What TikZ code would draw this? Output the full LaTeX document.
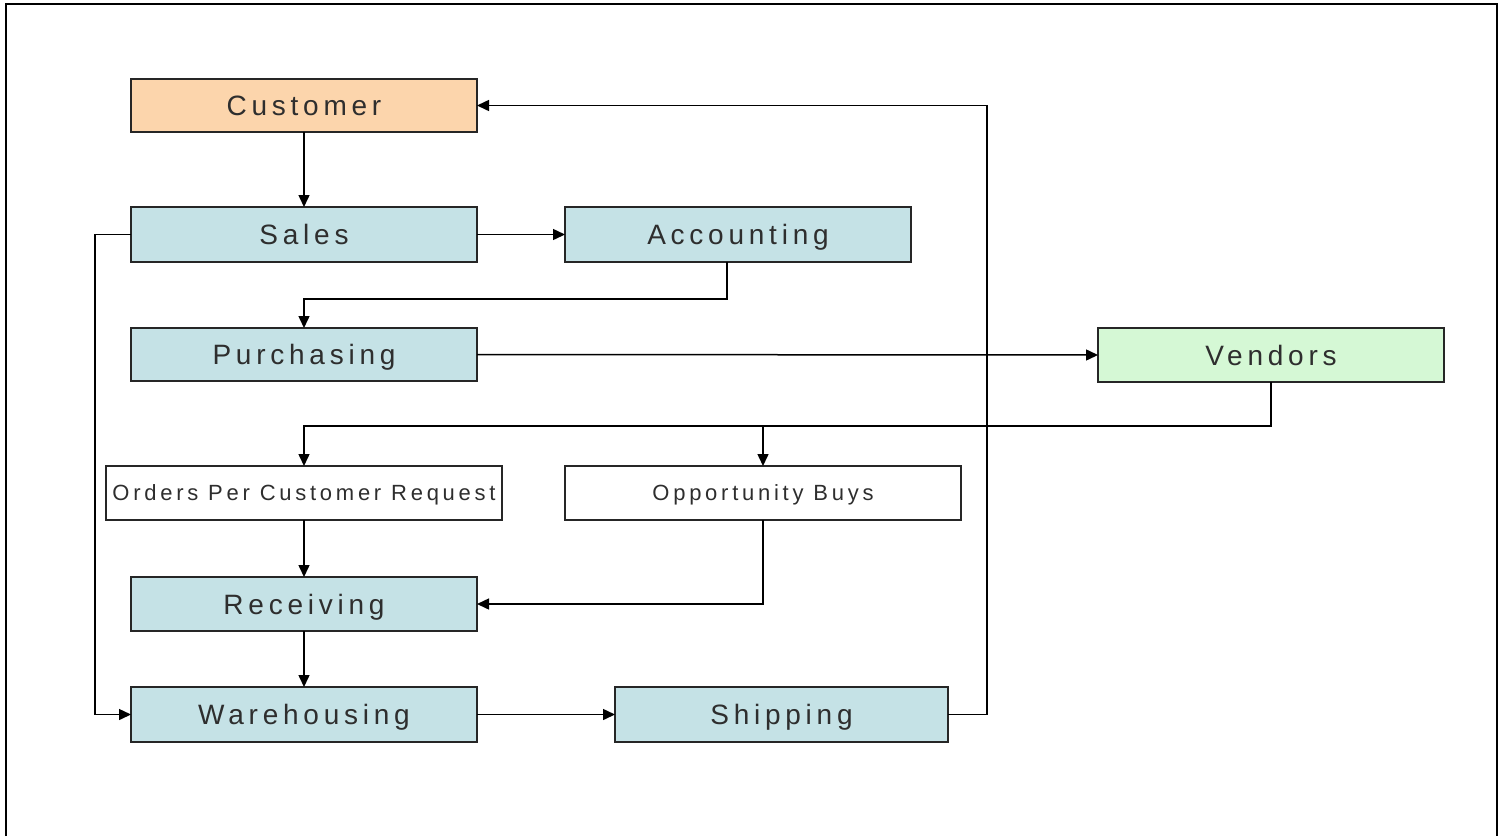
\documentclass[tikz,border=0pt]{standalone}
\usepackage{fontspec}
\setmainfont{Liberation Sans}
\newfontfamily\bigsp[LetterSpace=17]{Liberation Sans}
\newfontfamily\smallsp[LetterSpace=17]{Liberation Sans}
\usetikzlibrary{arrows.meta}
\definecolor{custfill}{HTML}{FCD5AC}
\definecolor{deptfill}{HTML}{C5E2E6}
\definecolor{vendfill}{HTML}{D5F8D5}
\definecolor{txt}{HTML}{2E2E2E}
\tikzset{
  box/.style={draw=black!85, line width=2pt, rectangle, minimum width=346pt, minimum height=54pt,
    inner sep=0pt, outer sep=0pt, text=txt, text height=20pt, text depth=0pt,
    font=\bigsp\fontsize{28}{30}\selectfont},
  wbox/.style={box, fill=white, minimum width=396pt, text height=15.5pt, text depth=0pt,
    font=\smallsp\fontsize{22}{24}\selectfont},
  conn/.style={draw=black, line width=1.5pt, -{Triangle[length=12pt,width=11pt]}},
}
\begin{document}
\begin{tikzpicture}[x=1pt,y=-1pt]
\useasboundingbox (0,0) rectangle (1504,836);
\draw[line width=2pt] (6,836) -- (6,4) -- (1497,4) -- (1497,836);

\node[box, fill=custfill, minimum height=53pt] (customer) at (304,105.5) {Customer};
\node[box, fill=deptfill, minimum height=55pt] (sales) at (304,234.5) {Sales};
\node[box, fill=deptfill, minimum height=55pt] (accounting) at (738,234.5) {Accounting};
\node[box, fill=deptfill, minimum height=53pt] (purchasing) at (304,354.5) {Purchasing};
\node[box, fill=vendfill] (vendors) at (1271,355) {Vendors};
\node[wbox] (orders) at (304,493) {Orders Per Customer Request};
\node[wbox] (opportunity) at (763,493) {Opportunity Buys};
\node[box, fill=deptfill] (receiving) at (304,604) {Receiving};
\node[box, fill=deptfill, minimum height=55pt] (warehousing) at (304,714.5) {Warehousing};
\node[box, fill=deptfill, minimum height=55pt, minimum width=333pt] (shipping) at (781.5,714.5) {Shipping};

\coordinate (acctout) at (727,262);
\coordinate (vendsplit) at (763,426);
\coordinate (shipturn) at (987,105.5);
\coordinate (salesturn) at (95,234.5);

\draw[conn] (customer.south) -- (sales.north);
\draw[conn] (sales.east) -- (accounting.west);
\draw[conn] (acctout) -- ++(0,37) -| (purchasing.north);
\draw[conn] (purchasing.east) -- (vendors.west);
\draw[conn] (vendors.south) |- (vendsplit) -| (orders.north);
\draw[conn] (vendsplit) -- (opportunity.north);
\draw[conn] (orders.south) -- (receiving.north);
\draw[conn] (opportunity.south) |- (receiving.east);
\draw[conn] (receiving.south) -- (warehousing.north);
\draw[conn] (sales.west) -- (salesturn) |- (warehousing.west);
\draw[conn] (warehousing.east) -- (shipping.west);
\draw[conn] (shipping.east) -| (shipturn) -- (customer.east);
\end{tikzpicture}
\end{document}
